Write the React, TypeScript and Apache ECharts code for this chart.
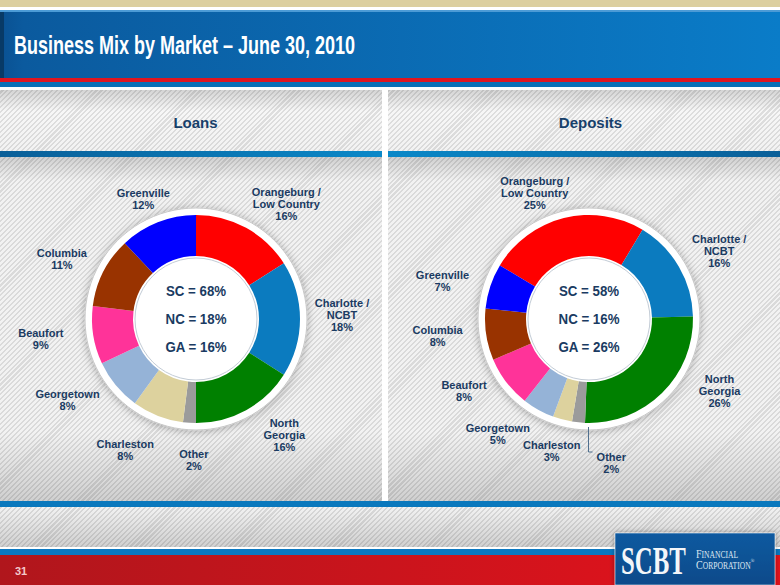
import React, { useEffect, useRef } from "react";
import * as echarts from "echarts";

// ---- data ----
const markets = [
  "Orangeburg /\nLow Country",
  "Charlotte /\nNCBT",
  "North\nGeorgia",
  "Other",
  "Charleston",
  "Georgetown",
  "Beaufort",
  "Columbia",
  "Greenville",
];
const loanShares = [16, 18, 16, 2, 8, 8, 9, 11, 12];
const depositShares = [25, 16, 26, 2, 3, 5, 8, 8, 7];
const stateNames = ["SC", "NC", "GA"];
const loanStateShares = [68, 18, 16];
const depositStateShares = [58, 16, 26];
const panelTitles = ["Loans", "Deposits"];
const slideTitle = "Business Mix by Market \u2013 June 30, 2010";
const pageNumber = "31";

// ---- styles / layout ----
const marketColors = ["#ff0000", "#0b7bbf", "#008000", "#9b9b9b", "#ddd29e", "#95b3d7", "#ff3399", "#993300", "#0000ff"];
const loanLabelNudge = [[20, 13], [0, -4], [18, -12], [7, -5], [-17, -5], [-16, -12], [-11, -3], [-4, 6], [1, 16]];
const depositLabelNudge = [[-19, 16], [4, 5], [28, -32], [37, -1], [0, -9], [-20, -12], [-9, -17], [-7, -5], [-8, 8]];
const FONT = "'Liberation Sans', Arial, Helvetica, sans-serif";
const SERIF = "'Liberation Serif', 'Times New Roman', serif";
const NAVY = "#1a3b62";
const STRIPES =
  "repeating-linear-gradient(135deg, #f7f7f7 0px, #f7f7f7 2px, #dedede 2px, #dedede 3.5px)";

const lin = (x2: number, y2: number, stops: [number, string][]) => ({
  type: "linear",
  x: 0,
  y: 0,
  x2,
  y2,
  colorStops: stops.map(([offset, color]) => ({ offset, color })),
});

const rect = (x: number, y: number, width: number, height: number, fill: any, z = 0, extra: any = {}) => ({
  type: "rect",
  z,
  silent: true,
  shape: { x, y, width, height },
  style: { fill, ...extra },
});

function donut(center: [number, number], shares: number[], startAngle: number, nudges: number[][]) {
  return [
    {
      type: "pie",
      z: 1,
      center,
      radius: [0, 111],
      silent: true,
      label: { show: false },
      labelLine: { show: false },
      itemStyle: {
        color: "#ffffff",
        borderColor: "#c8c8c8",
        borderWidth: 1,
        shadowBlur: 8,
        shadowColor: "rgba(0,0,0,0.3)",
        shadowOffsetY: 1,
      },
      data: [{ value: 1, name: "plate" }],
    },
    {
      type: "pie",
      z: 2,
      center,
      radius: [63, 104],
      startAngle,
      clockwise: true,
      silent: true,
      avoidLabelOverlap: false,
      label: { show: false },
      labelLine: { show: false },
      data: markets.map((m, i) => ({ name: m, value: shares[i], itemStyle: { color: marketColors[i] } })),
    },
    {
      type: "pie",
      z: 3,
      center,
      radius: [0, 61],
      silent: true,
      label: { show: false },
      labelLine: { show: false },
      itemStyle: { color: "#ffffff", borderColor: "#c3ccd6", borderWidth: 1 },
      data: [{ value: 1, name: "hole" }],
    },
    {
      type: "pie",
      z: 4,
      center,
      radius: [140, 146],
      startAngle,
      clockwise: true,
      silent: true,
      avoidLabelOverlap: false,
      itemStyle: { color: "rgba(0,0,0,0)" },
      labelLine: { show: false },
      label: {
        show: true,
        position: "inside",
        formatter: "{b}\n{c}%",
        color: NAVY,
        fontFamily: FONT,
        fontWeight: "bold",
        fontSize: 11,
        lineHeight: 12,
        align: "center",
      },
      labelLayout: (p: any) => ({ dx: nudges[p.dataIndex][0], dy: nudges[p.dataIndex][1] }),
      data: markets.map((m, i) => ({ name: m, value: shares[i] })),
    },
  ];
}

const centerTexts = (cx: number, values: number[]) =>
  stateNames.map((s, i) => ({
    type: "text",
    z: 20,
    silent: true,
    x: cx,
    y: 291 + i * 28,
    scaleX: 0.95,
    style: {
      text: `${s} = ${values[i]}%`,
      fill: NAVY,
      font: `bold 14px ${FONT}`,
      textAlign: "center",
      textVerticalAlign: "middle",
    },
  }));

export default function App() {
  const ref = useRef<HTMLDivElement>(null);
  useEffect(() => {
    const chart = echarts.init(ref.current!, undefined, { renderer: "svg", width: 780, height: 585 });
    const loanCenter: [number, number] = [196, 319];
    const depCenter: [number, number] = [589, 319];
    const graphics: any[] = [
      rect(0, 0, 780, 7, "#dccf9f"),
      rect(0, 7, 780, 3, "#ffffff"),
      rect(0, 10, 780, 2, "#4c9bd6"),
      rect(0, 12, 780, 66, lin(1, 0, [[0, "#0a5192"], [0.03, "#0b5a9e"], [1, "#0a7cc8"]])),
      rect(0, 12, 4, 66, "#083a66", 1),
      rect(0, 78, 780, 4, "#e0151f"),
      rect(0, 82, 780, 5, "#0a6fb6"),
      rect(0, 87, 780, 3, "#fdfdfd"),
      rect(382, 87, 6, 414, "#ffffff"),
      rect(0, 90, 382, 61, lin(0, 1, [[0, "rgba(0,0,0,0.14)"], [0.35, "rgba(0,0,0,0)"], [1, "rgba(0,0,0,0.02)"]])),
      rect(388, 90, 392, 61, lin(0, 1, [[0, "rgba(0,0,0,0.14)"], [0.35, "rgba(0,0,0,0)"], [1, "rgba(0,0,0,0.02)"]])),
      rect(0, 151, 382, 6, lin(1, 0, [[0, "#0a5f98"], [1, "#0a88c8"]])),
      rect(388, 151, 392, 6, lin(1, 0, [[0, "#0a88c8"], [1, "#0a5f98"]])),
      rect(0, 157, 382, 344, lin(0, 1, [[0, "rgba(0,0,0,0.16)"], [0.07, "rgba(0,0,0,0.02)"], [0.8, "rgba(0,0,0,0.02)"], [1, "rgba(0,0,0,0.16)"]])),
      rect(388, 157, 392, 344, lin(0, 1, [[0, "rgba(0,0,0,0.16)"], [0.07, "rgba(0,0,0,0.02)"], [0.8, "rgba(0,0,0,0.02)"], [1, "rgba(0,0,0,0.16)"]])),
      rect(0, 501, 780, 6, "#0a78bd"),
      rect(0, 507, 780, 40, lin(0, 1, [[0, "rgba(0,0,0,0.02)"], [1, "rgba(0,0,0,0.16)"]])),
      rect(0, 547, 780, 2, "#ffffff"),
      rect(0, 549, 780, 6, "#0a78c2"),
      rect(0, 555, 780, 30, lin(1, 0, [[0, "#b0161c"], [1, "#e5121c"]])),
      {
        type: "text",
        z: 5,
        silent: true,
        x: 14,
        y: 45,
        scaleX: 0.72,
        style: { text: slideTitle, fill: "#ffffff", font: `bold 25px ${FONT}`, textAlign: "left", textVerticalAlign: "middle" },
      },
      ...panelTitles.map((t, i) => ({
        type: "text",
        z: 5,
        silent: true,
        x: i === 0 ? 195.5 : 590.5,
        y: 122.5,
        style: { text: t, fill: "#17406a", font: `bold 15px ${FONT}`, textAlign: "center", textVerticalAlign: "middle" },
      })),
      {
        type: "text",
        z: 5,
        silent: true,
        x: 15,
        y: 571,
        style: { text: pageNumber, fill: "#f3c9cb", font: `bold 11px ${FONT}`, textAlign: "left", textVerticalAlign: "middle" },
      },
      rect(615, 533, 160, 52, lin(0, 1, [[0, "#0d5aa0"], [1, "#0a4a8a"]]), 6, {
        stroke: "rgba(255,255,255,0.55)",
        lineWidth: 1,
        shadowBlur: 5,
        shadowColor: "rgba(0,0,0,0.4)",
      }),
      {
        type: "text",
        z: 7,
        silent: true,
        x: 621,
        y: 560,
        scaleX: 0.62,
        style: { text: "SCBT", fill: "#f4f6f9", font: `bold 40px ${SERIF}`, lineHeight: 40, textAlign: "left", textVerticalAlign: "middle" },
      },
      {
        type: "text",
        z: 7,
        silent: true,
        x: 696,
        y: 560,
        scaleX: 0.8,
        style: {
          text: "{a|F}{b|INANCIAL}",
          textAlign: "left",
          textVerticalAlign: "bottom",
          rich: {
            a: { fontSize: 12.5, fontFamily: SERIF, fill: "#dbe5f0", verticalAlign: "bottom" },
            b: { fontSize: 9.5, fontFamily: SERIF, fill: "#dbe5f0", verticalAlign: "bottom" },
          },
        },
      },
      {
        type: "text",
        z: 7,
        silent: true,
        x: 696,
        y: 571,
        scaleX: 0.8,
        style: {
          text: "{a|C}{b|ORPORATION}{c|\u00ae}",
          textAlign: "left",
          textVerticalAlign: "bottom",
          rich: {
            a: { fontSize: 12.5, fontFamily: SERIF, fill: "#dbe5f0", verticalAlign: "bottom" },
            b: { fontSize: 9.5, fontFamily: SERIF, fill: "#dbe5f0", verticalAlign: "bottom" },
            c: { fontSize: 6, fontFamily: SERIF, fill: "#dbe5f0", verticalAlign: "top" },
          },
        },
      },
      ...centerTexts(loanCenter[0], loanStateShares),
      ...centerTexts(depCenter[0], depositStateShares),
      {
        type: "polyline",
        z: 20,
        silent: true,
        shape: { points: [[588.5, 427], [588.5, 452], [592.5, 452]] },
        style: { stroke: "#50708f", lineWidth: 1, fill: "none" },
      },
    ];

    chart.setOption({
      animation: false,
      backgroundColor: "transparent",
      graphic: { elements: graphics },
      series: [...donut(loanCenter, loanShares, 90, loanLabelNudge), ...donut(depCenter, depositShares, 149, depositLabelNudge)],
    });
    return () => chart.dispose();
  }, []);
  return (
    <div style={{ position: "fixed", left: 0, top: 0, width: 780, height: 585, background: STRIPES }}>
      <div ref={ref} style={{ width: 780, height: 585 }} />
    </div>
  );
}
